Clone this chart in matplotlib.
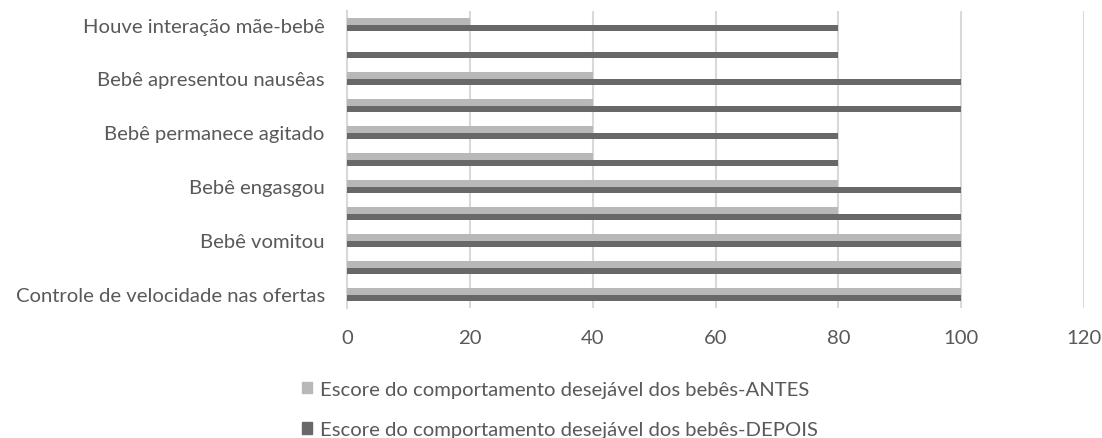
import numpy as np
from matplotlib import pyplot as plt
from matplotlib.patches import Patch

plt.rcParams["font.family"] = ["Lato", "DejaVu Sans"]

# categories from bottom to top (Excel only labels every other one)
categories = [
    "Controle de velocidade nas ofertas",
    "",
    "Bebê vomitou",
    "",
    "Bebê engasgou",
    "",
    "Bebê permanece agitado",
    "",
    "Bebê apresentou nausêas",
    "",
    "Houve interação mãe-bebê",
]
antes = [100, 100, 100, 80, 80, 40, 40, 40, 40, 0, 20]
depois = [100, 100, 100, 100, 100, 80, 80, 100, 100, 80, 80]
series_names = [
    "Escore do comportamento desejável dos bebês-ANTES",
    "Escore do comportamento desejável dos bebês-DEPOIS",
]
xticks = [0, 20, 40, 60, 80, 100, 120]

c_antes = "#b8b8b8"
c_depois = "#686868"
txt = "#595959"
grid_c = "#d9d9d9"
fs = 14.6

fig = plt.figure(figsize=(11.02, 4.39), dpi=100)
ax = fig.add_axes([347 / 1102, 1 - 309 / 439, (1084 - 347) / 1102, (309 - 12) / 439])

y = np.arange(len(categories))
h = 0.25
ax.barh(y + h / 2, antes, height=h, color=c_antes, zorder=3)
ax.barh(y - h / 2, depois, height=h, color=c_depois, zorder=3)

ax.set_xlim(0, 120)
ax.set_ylim(-0.5, len(categories) - 0.5)
ax.set_xticks(xticks)
ax.set_yticks(y)
ax.set_yticklabels(categories)
ax.xaxis.grid(True, color=grid_c, linewidth=1.5, zorder=0)
ax.set_axisbelow(True)
for s in ["top", "right", "bottom"]:
    ax.spines[s].set_visible(False)
ax.spines["left"].set_color(grid_c)
ax.spines["left"].set_linewidth(1.5)
ax.tick_params(axis="both", length=0, colors=txt, labelsize=fs)
ax.tick_params(axis="x", pad=15)
ax.tick_params(axis="y", pad=16)

handles = [Patch(color=c_antes), Patch(color=c_depois)]
fig.legend(
    handles,
    series_names,
    loc="center",
    bbox_to_anchor=(560 / 1102, 1 - 410.5 / 439),
    frameon=False,
    ncol=1,
    fontsize=fs,
    labelcolor=txt,
    handlelength=0.5,
    handleheight=0.5,
    handletextpad=0.43,
    labelspacing=1.18,
    borderpad=0,
    alignment="left",
)

fig.savefig("out.png", dpi=100)
